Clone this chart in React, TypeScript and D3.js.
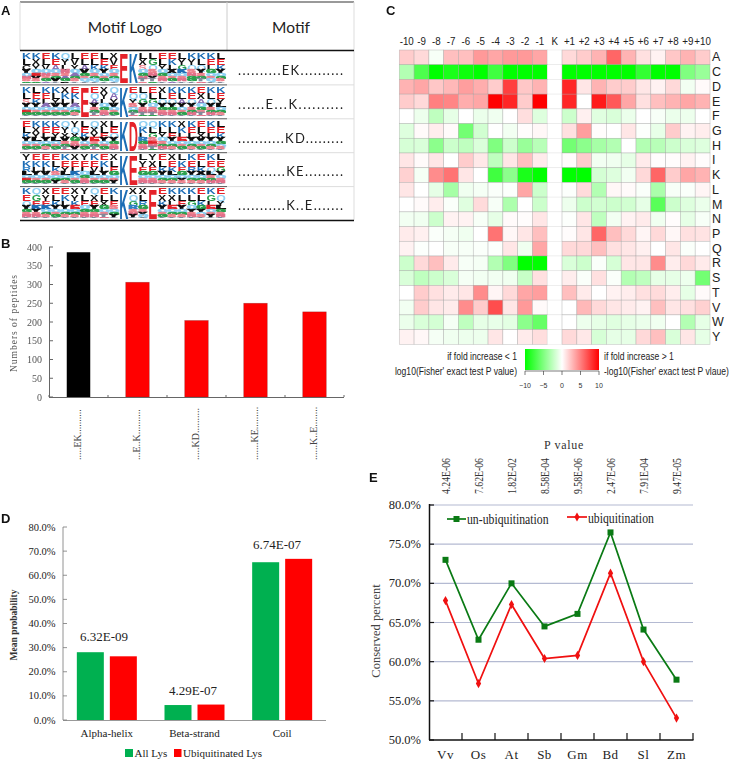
import React from "react";
import * as d3 from "d3";

// ---------- Panel A ----------
const motifLabels = ["..........EK..........", "......E...K..........", "...........KD.........", "...........KE.........", "...........K..E......."];
const logoRows = [
  ["KLCYQNSGA","KXYQEVSGA","ELVQNSGAT","KEAQSGVTA","QYLNSAGPT","LVYQAGSTN","ELAVGSQTA","ELKQSGQTA","LEKYQSGTA","XVEQSGQTA","E","K","LXSQGNTSA","LGQSNYTGA","ELYQGSNTA","EKLXQSGAT","LYGKQSNTA","KYQSNGGTA","KLQYSGTNA","KELGQSQTA","LEKYQGSTA"],
  ["KLSYQEGTA","LEKYQSGTA","KELAQSGTA","KLYVQSGTA","XKLYQSGTA","EKLAQGSTA","E","EQAYSGTNA","XYLQGSNTA","QAYVQSGTA","K","EQYSQGTNA","LQGYSNTGA","ELGQSNTGA","XLQYGSNTA","KEQYGSNTA","KLAYQSGTA","KEQYSGNTA","EXAQGSTNA","KLQYSGNTA","KEYLQGSTA"],
  ["ELKYQSGTA","KXYLQSGTA","KELYQGSTA","KEYLQSGTA","QYXVSGTNA","YQXGSNVTA","LEKVQSGTA","QXYESGTNA","XLEYQSGTA","LEQYGSNTA","K","D","QKLRGSNTA","QLGSENTGA","KLYQSGNTA","KLEYQGSTA","XKLEQSGTA","KELYQGSTA","ELXVQSGTA","KELYQGSTA","LEKYGQSTA"],
  ["YKRLQEGTA","EKLYQSGTA","EKLVQSGTA","ELKSQGYTA","KEYLQGSTA","XELKQSGTA","YELQGSNTA","KEVLQSGTA","EKLYQSGTA","XLEGQSYTA","K","E","LYEGQSNTA","YXEGQSNTA","ELKYQGSTA","XEKLQGSTA","LKEGQYSTA","KERYQGSTA","ELKXQGSTA","KEQLSGNTA","LEGYQSNTA"],
  ["KEQYGSNTA","QGEKYSNTA","XYEKQGSTA","ELKYQSGTA","EKLYQGSTA","XYKEQGSTA","YLEQGSNTA","QXEYGSNTA","ELXGQSTNA","KLESQGYTA","K","XQGRSNYTA","XLRGSYQTA","E","EXKYQSGTA","KXLEQGSTA","KLEYQGSTA","KLGQYSNTA","ELKGYQSTA","KGLEQSYTA","EQYLGSNTA"],
];
const stackShares = [0.21, 0.2, 0.16, 0.11, 0.1, 0.09, 0.07, 0.04, 0.02];
const residueColors: Record<string, string> = { E: "#e5242a", D: "#e5242a", K: "#1f6db5", R: "#2f7fc4", L: "#111", X: "#111", Y: "#111", V: "#111", A: "#8a6fb5", G: "#2ba04d", S: "#ef7f8c", T: "#7f8a9a", Q: "#8fd0f2", N: "#e2708a", C: "#111", P: "#111" };
const glyphWidths: Record<string, number> = { E: 0.67, L: 0.61, K: 0.72, D: 0.72 };

// ---------- Panel B ----------
const peptideCategories = [".....EK..........", "...E..K..........", ".....KD..........", ".......KE.........", "......K..E........"];
const peptideValues = [386, 306, 204, 250, 227];
const peptideColors = ["#000000", "#ff0000", "#ff0000", "#ff0000", "#ff0000"];
const peptideTicks = [0, 50, 100, 150, 200, 250, 300, 350, 400];

// ---------- Panel C ----------
const positions = ["-10","-9","-8","-7","-6","-5","-4","-3","-2","-1","K","+1","+2","+3","+4","+5","+6","+7","+8","+9","+10"];
const residues = ["A","C","D","E","F","G","H","I","K","L","M","N","P","Q","R","S","T","V","W","Y"];
const heatA = [2,1.5,-.3,2.5,2.5,4,3.5,4,4,3.5,0,1.5,2,3,6,3,1.2,.5,2.2,3,2];
const heatC = [-3,-7,-10,-9,-9.5,-10,-7.5,-10,-10,-10,0,-10,-10,-10,-10,-10,-8,-10,-10,-5,-4];
const heatD = [3,3.5,2.2,2.8,3.8,3.2,2,7.5,2.2,3,0,8.5,1,3,2,2,1,.5,1.5,-.5,.2];
const heatE = [2,1.5,5,4.8,3.2,3.5,10,8.5,2,10,0,8.5,0,9,6.5,3.5,1.2,2.5,3,3.5,3];
const heatF = [0,-.7,-2.5,-1,0,-.8,-.6,0,1.3,-1.3,0,-2,.6,-1.2,-1.5,-.8,0,-.3,-.8,-.7,0];
const heatG = [-1.3,.2,.7,.2,-5.5,-1.8,0,-.5,.1,.3,0,1.2,3.8,.1,0,1,-.1,-.9,2,.5,.7];
const heatH = [-1.6,-1.5,-4.5,-2,-2.5,-1.4,-5,-2,-4,-2.8,0,-5.5,-4.5,-3.5,-3,0,-3,-2.8,-2,-1.5,-1.3];
const heatI = [1,.2,1,0,2,.9,-2.5,1,2.5,.8,0,.1,2,-.5,-.6,-1,.8,.1,.1,.5,.1];
const heatK = [1.8,-.4,4.5,5.5,1,0,-7.5,-4.5,-9,-10,0,-10,-10,-1.7,-1.3,-.5,1.5,6,2,3.5,3];
const heatL = [1,0,-1,-3.5,-.6,-.4,-.2,-.1,3.5,-2,0,-.1,1.4,-3,.3,.2,-.2,-3.3,-.3,-.2,.4];
const heatM = [0,.2,.7,-.2,-1.2,1.4,-.3,-3.2,0,-2,0,-.7,-2,-1.8,-2,-1.8,-1,-6.5,-2,-1.3,-.8];
const heatN = [-.5,-.6,-2,.5,.5,-.3,-1,.2,.1,1,0,-.1,1,-2.5,-.5,.5,.8,-.6,.1,-1,-.3];
const heatP = [.8,.6,-.2,-.4,-.6,0,5.5,.3,1,2.5,0,.1,1,6,2.5,1.5,.4,1.5,.3,1.2,1.1];
const heatQ = [.5,-.1,0,-.3,-.3,-.2,-.1,1,-.6,3.5,0,1.5,1.5,2.5,1.2,1,.6,0,1,-.2,0];
const heatR = [-2,1.5,2.5,.8,-.3,-.4,-3,-5,-10,-10,0,-1.5,-2,-.2,-1.6,1,1,4.5,.7,1.5,.8];
const heatS = [-1.5,-2.5,-2,-1.5,-.4,-.5,-.5,-.6,-2.2,1.2,0,.7,-.2,1.2,-.2,-3,-2.5,-1,-1,-.7,-5.5];
const heatT = [0,2,1.2,.8,1,4.5,.4,1.5,3.5,3.8,0,2.5,.8,0,.5,.7,1.2,1.4,.7,-1,.2];
const heatV = [-.5,2,1,.8,4.5,2,7,1,4,.2,0,0,2.8,1.5,1,.8,.5,2.5,1,1.2,1.8];
const heatW = [-.8,-1.5,-1.7,-.4,-2.5,-1,-.9,-1.1,-4.5,-6,0,0,-.7,-1,-1.2,-1,-.8,-.6,0,-3,-1];
const heatY = [.5,.3,-.4,-.6,-.7,-.7,1,0,.8,1.3,0,1.5,.9,-1.6,-1,-1,1.5,2.5,-1.5,1,-1];
const heatRows = [heatA,heatC,heatD,heatE,heatF,heatG,heatH,heatI,heatK,heatL,heatM,heatN,heatP,heatQ,heatR,heatS,heatT,heatV,heatW,heatY];
const legendTicks = [-10, -5, 0, 5, 10];

// ---------- Panel D ----------
const structures = ["Alpha-helix", "Beta-strand", "Coil"];
const allLys = [0.281, 0.062, 0.654];
const ubLys = [0.264, 0.064, 0.668];
const structureP = ["6.32E-09", "4.29E-07", "6.74E-07"];
const probabilityTicks = [0, 0.1, 0.2, 0.3, 0.4, 0.5, 0.6, 0.7, 0.8];

// ---------- Panel E ----------
const species = ["Vv", "Os", "At", "Sb", "Gm", "Bd", "Sl", "Zm"];
const unUb = [73.0, 62.8, 70.0, 64.5, 66.1, 76.5, 64.1, 57.7];
const ub = [67.8, 57.2, 67.3, 60.4, 60.8, 71.3, 60.0, 52.8];
const speciesP = ["4.24E-06", "7.62E-06", "1.82E-02", "8.58E-04", "9.58E-06", "2.47E-06", "7.91E-04", "9.47E-05"];
const conservedTicks = [50, 55, 60, 65, 70, 75, 80];

const SERIF = "'Liberation Serif', serif";
const SANS = "'Liberation Sans', sans-serif";

function Letter({ ch, x, y, w, h, heavy }: { ch: string; x: number; y: number; w: number; h: number; heavy?: boolean }) {
  const em = 10, cap = 7.2;
  const gw = (glyphWidths[ch] ?? 0.74) * em;
  const c = residueColors[ch] ?? "#111";
  return (
    <text transform={`translate(${x},${y + h}) scale(${w / gw},${h / cap})`} fontFamily={SANS} fontWeight={700} fontSize={em}
      fill={c} stroke={heavy ? c : "none"} strokeWidth={heavy ? 1.6 : 0}>{ch}</text>
  );
}

function PanelA() {
  const rowY = d3.scaleBand<number>().domain(d3.range(5)).range([51, 220.5]);
  const colX = d3.scaleBand<number>().domain(d3.range(21)).range([22, 226]);
  return (
    <g>
      <line x1={20} x2={354} y1={2} y2={2} stroke="#777" strokeWidth={1.5} />
      <line x1={227} x2={227} y1={2} y2={50} stroke="#ccc" />
      <line x1={20} x2={20} y1={2} y2={50} stroke="#ddd" />
      <line x1={354} x2={354} y1={2} y2={220} stroke="#ddd" />
      <line x1={20} x2={354} y1={50.5} y2={50.5} stroke="#111" strokeWidth={1.5} />
      <text x={125} y={33} textAnchor="middle" fontFamily="Lato" fontSize={15.5} fill="#222">Motif Logo</text>
      <text x={291} y={33} textAnchor="middle" fontFamily="Lato" fontSize={15.5} fill="#222">Motif</text>
      <g filter="url(#soft)">
        {logoRows.map((cols, r) => (
          <g key={r}>
            {cols.map((stack, c) => {
              const y0 = rowY(r)! + 1.5, H = rowY.bandwidth() - 3;
              const w = colX.bandwidth() - 0.6, x = colX(c)!;
              if (stack.length === 1) return <Letter key={c} ch={stack} x={x} y={y0} w={w} h={H} />;
              let cum = 0;
              return stack.split("").map((ch, i) => {
                const h = stackShares[i] * H; const yy = y0 + cum; cum += h;
                return <Letter key={c + "-" + i} ch={ch} x={x} y={yy} w={w} h={h - 0.2} heavy={i >= 3} />;
              });
            })}
          </g>
        ))}
      </g>
      {motifLabels.map((m, r) => (
        <g key={m}>
          <line x1={20} x2={r === 4 ? 354 : 227} y1={rowY(r)! + rowY.bandwidth()} y2={rowY(r)! + rowY.bandwidth()} stroke={r === 4 ? "#111" : "#555"} strokeWidth={r === 4 ? 1.5 : 1} />
          {r < 4 && <line x1={227} x2={354} y1={rowY(r)! + rowY.bandwidth()} y2={rowY(r)! + rowY.bandwidth()} stroke="#ddd" />}
          <text x={238} y={rowY(r)! + 23.7} textLength={105} lengthAdjust="spacing" fontFamily="Lato" fontSize={13} fill="#222">{m}</text>
        </g>
      ))}
    </g>
  );
}

function PanelB() {
  const x = d3.scaleBand<number>().domain(d3.range(5)).range([49, 344]);
  const y = d3.scaleLinear().domain([0, 400]).range([397, 247]);
  const barW = 23.5;
  const grey = "#555";
  return (
    <g fontFamily={SERIF} fill={grey}>
      {peptideValues.map((v, i) => (
        <rect key={i} x={x(i)! + x.bandwidth() / 2 - barW / 2} y={y(v)} width={barW} height={y(0) - y(v)} fill={peptideColors[i]} stroke="#7a2020" strokeOpacity={i ? 0.5 : 0} strokeWidth={0.6} />
      ))}
      <line x1={49.5} x2={49.5} y1={247} y2={397} stroke="#666" />
      <line x1={49} x2={344} y1={397.5} y2={397.5} stroke="#666" />
      {peptideTicks.map((t) => (
        <g key={t}>
          <line x1={49} x2={53} y1={y(t)} y2={y(t)} stroke="#666" />
          <text x={42} y={y(t) + 3.5} textAnchor="end" fontSize={10}>{t}</text>
        </g>
      ))}
      {d3.range(6).map((i) => <line key={i} x1={49 + i * x.step()} x2={49 + i * x.step()} y1={397} y2={395} stroke="#666" />)}
      {peptideCategories.map((c, i) => (
        <text key={i} transform={`translate(${x(i)! + x.bandwidth() / 2 + 2.5},460) rotate(-90)`} fontSize={10} fill="#444">{c}</text>
      ))}
      <text transform="translate(17,323) rotate(-90)" textAnchor="middle" fontSize={9.5} letterSpacing={1}>Numbers of peptides</text>
    </g>
  );
}

function PanelC() {
  const x = d3.scaleBand<string>().domain(positions).range([399.3, 710]);
  const y = d3.scaleBand<string>().domain(residues).range([50, 344.3]);
  const color = d3.scaleLinear<string>().domain([-10, 0, 10]).range(["#00ff00", "#ffffff", "#ff0000"]);
  const lx = d3.scaleLinear().domain([-10, 10]).range([525, 599]);
  const narrow = (tx: number, ty: number, k = 0.78) => `translate(${tx},${ty}) scale(${k},1)`;
  return (
    <g fontFamily={SANS} fill="#222">
      <defs>
        <linearGradient id="heatLegend">
          {legendTicks.map((t) => <stop key={t} offset={`${(t + 10) * 5}%`} stopColor={color(t)} />)}
        </linearGradient>
      </defs>
      {heatRows.map((row, r) => row.map((v, c) => (
        <rect key={r + "-" + c} x={x(positions[c])} y={y(residues[r])} width={x.bandwidth()} height={y.bandwidth()} fill={color(v)} stroke="#9a9a9a" strokeOpacity={positions[c] === "K" ? 0.2 : 0.55} strokeWidth={0.6} />
      )))}
      {positions.map((p) => (
        <text key={p} transform={narrow(x(p)! + x.bandwidth() / 2, 45, 0.85)} textAnchor="middle" fontSize={11.5}>{p}</text>
      ))}
      {residues.map((p) => (
        <text key={p} x={712} y={y(p)! + y.bandwidth() / 2 + 4} fontSize={12.5}>{p}</text>
      ))}
      <rect x={525} y={349} width={74} height={21} fill="url(#heatLegend)" />
      {legendTicks.map((t) => (
        <g key={t}>
          <line x1={lx(t)} x2={lx(t)} y1={371} y2={375} stroke="#444" strokeWidth={0.7} />
          <text x={lx(t)} y={388} textAnchor="middle" fontSize={7} fill="#333">{t < 0 ? `−${-t}` : t}</text>
        </g>
      ))}
      <line x1={525} x2={599} y1={371} y2={371} stroke="#444" strokeWidth={0.7} />
      <text transform={narrow(517, 360)} textAnchor="end" fontSize={11}>if fold increase &lt; 1</text>
      <text transform={narrow(517, 375)} textAnchor="end" fontSize={11}>log10(Fisher' exact test P value)</text>
      <text transform={narrow(604, 360)} fontSize={11}>if fold increase &gt; 1</text>
      <text transform={narrow(604, 375)} fontSize={11}>-log10(Fisher' exact test P vlaue)</text>
    </g>
  );
}

function PanelD() {
  const x = d3.scaleBand<string>().domain(structures).range([63, 326]);
  const y = d3.scaleLinear().domain([0, 0.8]).range([720, 527]);
  const barW = 27, gap = 6;
  const pY = [641, 695, 549];
  const pX = [104, 193, 277];
  return (
    <g fontFamily={SERIF} fill="#222">
      {structures.map((s, i) => {
        const cx = x(s)! + x.bandwidth() / 2;
        return (
          <g key={s}>
            <rect x={cx - gap / 2 - barW} y={y(allLys[i])} width={barW} height={y(0) - y(allLys[i])} fill="#00b050" />
            <rect x={cx + gap / 2} y={y(ubLys[i])} width={barW} height={y(0) - y(ubLys[i])} fill="#ff0000" />
            <text x={pX[i]} y={pY[i]} textAnchor="middle" fontSize={13}>{structureP[i]}</text>
            <text x={cx} y={737} textAnchor="middle" fontSize={11}>{s}</text>
          </g>
        );
      })}
      <line x1={63} x2={63} y1={527} y2={720} stroke="#777" strokeWidth={0.8} />
      <line x1={63} x2={326} y1={720.5} y2={720.5} stroke="#999" />
      {probabilityTicks.map((t) => (
        <g key={t}>
          <line x1={63} x2={67} y1={y(t)} y2={y(t)} stroke="#777" strokeWidth={0.8} />
          <text x={55.5} y={y(t) + 3.5} textAnchor="end" fontSize={10.5}>{d3.format(".1%")(t)}</text>
        </g>
      ))}
      <text transform="translate(17,625) rotate(-90)" textAnchor="middle" fontSize={9.5} fontWeight={700} fill="#333">Mean probability</text>
      <rect x={125} y={749} width={8} height={8} fill="#00b050" />
      <text x={134.5} y={756.5} fontSize={11}>All Lys</text>
      <rect x={174} y={749} width={7.5} height={8} fill="#ff0000" />
      <text x={183} y={756.5} fontSize={11}>Ubiquitinated Lys</text>
    </g>
  );
}

function PanelE() {
  const x = d3.scaleBand<string>().domain(species).range([429, 693]);
  const y = d3.scaleLinear().domain([50, 80]).range([740, 505]);
  const line = d3.line<number>().x((_, i) => x(species[i])! + x.bandwidth() / 2).y((d) => y(d));
  const green = "#0a7a14", red = "#f01010";
  const diamond = d3.symbol().type(d3.symbolDiamond).size(24)();
  return (
    <g fontFamily={SERIF} fill="#222">
      {conservedTicks.filter((t) => t > 50).map((t) => (
        <line key={t} x1={429} x2={693} y1={y(t)} y2={y(t)} stroke="#b4bad2" strokeWidth={1.2} />
      ))}
      <path d={line(unUb) ?? ""} fill="none" stroke={green} strokeWidth={1.7} />
      <path d={line(ub) ?? ""} fill="none" stroke={red} strokeWidth={1.7} />
      {unUb.map((v, i) => (
        <rect key={i} x={x(species[i])! + x.bandwidth() / 2 - 3} y={y(v) - 3} width={6} height={6} fill={green} />
      ))}
      {ub.map((v, i) => (
        <path key={i} d={diamond ?? ""} transform={`translate(${x(species[i])! + x.bandwidth() / 2},${y(v)})`} fill={red} />
      ))}
      <line x1={429.5} x2={429.5} y1={504} y2={740} stroke="#111" strokeWidth={1.5} />
      <line x1={429} x2={693.5} y1={740} y2={740} stroke="#111" strokeWidth={1.5} />
      {conservedTicks.map((t) => (
        <g key={t}>
          <line x1={429} x2={434} y1={y(t)} y2={y(t)} stroke="#111" strokeWidth={1.2} />
          <text x={421} y={y(t) + 4} textAnchor="end" fontSize={12.5}>{t.toFixed(1)}%</text>
        </g>
      ))}
      {d3.range(1, 9).map((i) => (
        <line key={i} x1={429 + i * x.step()} x2={429 + i * x.step()} y1={733} y2={740} stroke="#111" strokeWidth={1.2} />
      ))}
      {species.map((s, i) => (
        <g key={s}>
          <text x={x(s)! + x.bandwidth() / 2} y={758.5} textAnchor="middle" fontSize={13} letterSpacing={0.5}>{s}</text>
          <text transform={`translate(${x(s)! + x.bandwidth() / 2 + 4},494) rotate(-90) scale(0.75,1)`} fontSize={13} fill="#333">{speciesP[i]}</text>
        </g>
      ))}
      <text x={564} y={449} textAnchor="middle" fontSize={12} letterSpacing={0.7} fill="#333">P value</text>
      <text transform="translate(380,631) rotate(-90)" textAnchor="middle" fontSize={12.5} fill="#444">Conserved percent</text>
      <line x1={447} x2={466} y1={519} y2={519} stroke={green} strokeWidth={1.7} />
      <rect x={453.5} y={516} width={6} height={6} fill={green} />
      <text transform="translate(467,524) scale(0.84,1)" fontSize={14}>un-ubiquitination</text>
      <line x1={567} x2={587} y1={517} y2={517} stroke={red} strokeWidth={1.7} />
      <path d={diamond ?? ""} transform="translate(577,517)" fill={red} />
      <text transform="translate(588,523) scale(0.84,1)" fontSize={14}>ubiquitination</text>
    </g>
  );
}

export default function App() {
  const letters: [string, number, number][] = [["A", 1, 15], ["C", 386, 15], ["B", 1, 248], ["D", 1, 523], ["E", 369, 482]];
  return (
    <svg width={731} height={760} viewBox="0 0 731 760" style={{ position: "absolute", left: 0, top: 0, background: "#fff" }}>
      <defs>
        <filter id="soft" x="0" y="0" width="100%" height="100%"><feGaussianBlur stdDeviation="0.35" /></filter>
      </defs>
      <PanelA />
      <PanelB />
      <PanelC />
      <PanelD />
      <PanelE />
      {letters.map(([t, x, y]) => (
        <text key={t} x={x} y={y} fontFamily={SANS} fontWeight={700} fontSize={13} fill="#111">{t}</text>
      ))}
    </svg>
  );
}
